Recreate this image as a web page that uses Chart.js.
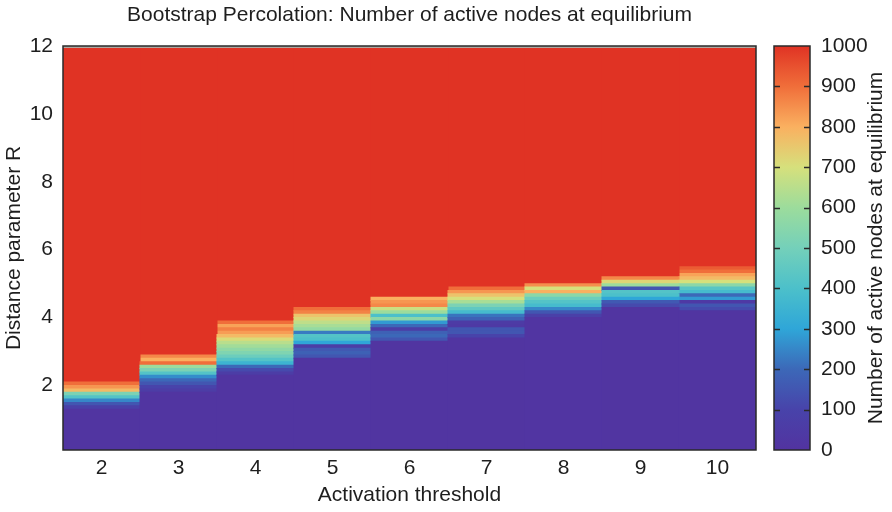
<!DOCTYPE html>
<html>
<head>
<meta charset="utf-8">
<script src="https://cdn.jsdelivr.net/npm/chart.js@4/dist/chart.umd.min.js"></script>
<style>
html,body{margin:0;padding:0;background:#fff;}
#wrap{position:relative;width:892px;height:512px;}
#main{position:absolute;left:0;top:0;}
#cbar{position:absolute;left:760px;top:0;}
</style>
</head>
<body>
<div id="wrap">
<canvas id="main" width="892" height="512"></canvas>
<canvas id="cbar" width="132" height="512"></canvas>
</div>
<script>
// ---- data ----
const thresholds = ['2','3','4','5','6','7','8','9','10'];
const rMin = 0.1, rMax = 12, rStep = 0.1;
const yTicks = [2,4,6,8,10,12];
const cbTicks = [0,100,200,300,400,500,600,700,800,900,1000];
// R below which every run stays near zero (per threshold)
const transitionStart = [1.3, 1.8, 2.3, 2.8, 3.3, 3.4, 4.0, 4.3, 4.2];
const baseValue = [10, 10, 10, 10, 10, 10, 15, 10, 10];
const saturatedValue = 1000;
// active-node counts for successive 0.1-wide R rows above transitionStart
const rowsT2  = [80,150,250,420,520,780,840,900];
const rowsT3  = [60,100,150,200,260,420,520,600,900,800,860];
const rowsT4  = [60,120,200,350,420,480,530,570,610,650,710,780,830,870,820,900];
const rowsT5  = [150,180,160,60,300,400,420,230,580,620,660,720,760,870,900];
const rowsT6  = [150,200,180,60,200,280,560,400,600,680,860,840,800];
const rowsT7  = [100,150,150,40,50,180,220,380,450,520,620,700,760,840,900];
const rowsT8  = [80,150,250,380,420,480,560,800,700,850];
const rowsT9  = [120,160,300,400,420,150,600,720,860];
const rowsT10 = [120,150,40,280,200,380,430,560,700,780,820,900,930];
const transitionRows = [rowsT2,rowsT3,rowsT4,rowsT5,rowsT6,rowsT7,rowsT8,rowsT9,rowsT10];

// ---- colormap ----
const stops = [
  [0.0,[82,51,160]],[0.1,[72,67,170]],[0.2,[60,104,184]],[0.3,[47,166,216]],
  [0.4,[76,192,202]],[0.5,[116,208,186]],[0.6,[156,220,156]],[0.7,[214,224,124]],
  [0.8,[250,176,96]],[0.9,[240,110,58]],[1.0,[224,51,36]]
];
function cmap(v){
  const t = Math.max(0, Math.min(1, v/1000));
  for (let i=1;i<stops.length;i++){
    if (t <= stops[i][0]){
      const a=stops[i-1], b=stops[i];
      const f=(t-a[0])/(b[0]-a[0]);
      const c=a[1].map((x,j)=>Math.round(x+(b[1][j]-x)*f));
      return `rgb(${c[0]},${c[1]},${c[2]})`;
    }
  }
  return 'rgb(224,51,36)';
}

// ---- build segments per column ----
const r2 = x => Math.round(x*100)/100;
const segs = thresholds.map((_, i) => {
  const s = transitionStart[i];
  const list = [{lo:rMin, hi:s, v:baseValue[i]}];
  transitionRows[i].forEach((v,k) => list.push({lo:r2(s+k*rStep), hi:r2(s+(k+1)*rStep), v}));
  const top = r2(s + transitionRows[i].length*rStep);
  list.push({lo:top, hi:rMax, v:saturatedValue});
  return list;
});
const maxSeg = Math.max(...segs.map(s=>s.length));
const datasets = [];
for (let k=0;k<maxSeg;k++){
  datasets.push({
    data: segs.map(s => s[k] ? [s[k].lo, s[k].hi] : null),
    backgroundColor: segs.map(s => s[k] ? cmap(s[k].v) : 'rgba(0,0,0,0)'),
    borderWidth: 0,
    grouped: false,
    barPercentage: 1,
    categoryPercentage: 1,
    inflateAmount: 0.5
  });
}

const FONT = "'Liberation Sans', Arial, sans-serif";
const FS = 21;
const TXT = '#1e1e1e';

const framePlugin = {
  id: 'frame',
  afterLayout(chart){
    if (chart.titleBlock) {
      chart.titleBlock.left = chart.chartArea.left;
      chart.titleBlock.right = chart.chartArea.right;
    }
  },
  afterDatasetsDraw(chart){
    const a = chart.chartArea, ctx = chart.ctx;
    ctx.save();
    ctx.strokeStyle = '#b0a8a0';
    ctx.lineWidth = 2;
    ctx.beginPath(); ctx.moveTo(a.left, a.top+1); ctx.lineTo(a.right, a.top+1); ctx.stroke();
    ctx.strokeStyle = '#2a2a2a';
    ctx.lineWidth = 1.5;
    ctx.strokeRect(a.left, a.top, a.right-a.left, a.bottom-a.top);
    ctx.restore();
  }
};

new Chart(document.getElementById('main'), {
  type: 'bar',
  data: { labels: thresholds, datasets },
  options: {
    responsive: false,
    animation: false,
    layout: { padding: { left: 0, right: 136, top: 0, bottom: 0 } },
    plugins: {
      legend: { display: false },
      tooltip: { enabled: false },
      title: {
        display: true,
        text: 'Bootstrap Percolation: Number of active nodes at equilibrium',
        color: TXT,
        font: { family: FONT, size: FS, weight: 'normal' },
        padding: { top: 2.5, bottom: 18.3 }
      }
    },
    scales: {
      x: {
        type: 'category',
        offset: true,
        grid: { display: false, drawTicks: false },
        border: { display: false },
        ticks: { color: TXT, font: { family: FONT, size: FS }, padding: 6 },
        title: { display: true, text: 'Activation threshold', color: TXT,
                 font: { family: FONT, size: FS }, padding: { top: 0, bottom: 4 } },
        afterFit(s){ s.height = 62; }
      },
      y: {
        type: 'linear',
        min: rMin, max: rMax,
        grid: { display: false, drawTicks: false },
        border: { display: false },
        afterBuildTicks(s){ s.ticks = yTicks.map(v=>({value:v})); },
        ticks: { color: TXT, font: { family: FONT, size: FS }, padding: 10 },
        title: { display: true, text: 'Distance parameter R', color: TXT,
                 font: { family: FONT, size: FS }, padding: { top: 2, bottom: 0 } },
        afterFit(s){ s.width = 63; }
      }
    }
  },
  plugins: [framePlugin]
});

// ---- colour bar ----
const cbTitle = 'Number of active nodes at equilibrium';
const cbPlugin = {
  id: 'cbframe',
  afterDatasetsDraw(chart){
    const a = chart.chartArea, ctx = chart.ctx, y = chart.scales.y;
    ctx.save();
    ctx.strokeStyle = '#2a2a2a';
    ctx.lineWidth = 1.5;
    y.ticks.forEach(t => {
      if (t.value <= 0 || t.value >= 1000) return;
      const py = Math.round(y.getPixelForValue(t.value)) + 0.5;
      ctx.beginPath();
      ctx.moveTo(a.left, py); ctx.lineTo(a.left+6, py);
      ctx.moveTo(a.right-6, py); ctx.lineTo(a.right, py);
      ctx.stroke();
    });
    ctx.strokeRect(a.left, a.top, a.right-a.left, a.bottom-a.top);
    ctx.restore();
  },
  afterDraw(chart){
    const a = chart.chartArea, ctx = chart.ctx;
    ctx.save();
    ctx.translate(116, (a.top + a.bottom) / 2);
    ctx.rotate(-Math.PI / 2);
    ctx.fillStyle = TXT;
    ctx.font = `${FS}px ${FONT}`;
    ctx.textAlign = 'center';
    ctx.textBaseline = 'middle';
    ctx.fillText(cbTitle, 0, 0);
    ctx.restore();
  }
};

new Chart(document.getElementById('cbar'), {
  type: 'bar',
  data: {
    labels: [''],
    datasets: [{
      data: [[0, 1000]],
      borderWidth: 0,
      barPercentage: 1,
      categoryPercentage: 1,
      inflateAmount: 0.5,
      backgroundColor(ctx){
        const chart = ctx.chart;
        const ys = chart.scales.y;
        if (!ys) return cmap(500);
        const y0 = ys.getPixelForValue(0), y1 = ys.getPixelForValue(1000);
        if (!isFinite(y0) || !isFinite(y1)) return cmap(500);
        const g = chart.ctx.createLinearGradient(0, y0, 0, y1);
        for (let v=0; v<=1000; v+=50) g.addColorStop(v/1000, cmap(v));
        return g;
      }
    }]
  },
  options: {
    responsive: false,
    animation: false,
    layout: { padding: { left: 14, right: 0, top: 46, bottom: 62 } },
    plugins: { legend: { display: false }, tooltip: { enabled: false }, title: { display: false } },
    scales: {
      x: { display: false, offset: true },
      y: {
        position: 'right',
        min: 0, max: 1000,
        afterBuildTicks(s){ s.ticks = cbTicks.map(v=>({value:v})); },
        grid: { display: false, drawTicks: false },
        border: { display: false },
        ticks: { color: TXT, font: { family: FONT, size: FS }, padding: 11,
                 callback: v => String(v) },
        title: { display: false },
        afterFit(s){ s.width = 82; }
      }
    }
  },
  plugins: [cbPlugin]
});
</script>
</body>
</html>
